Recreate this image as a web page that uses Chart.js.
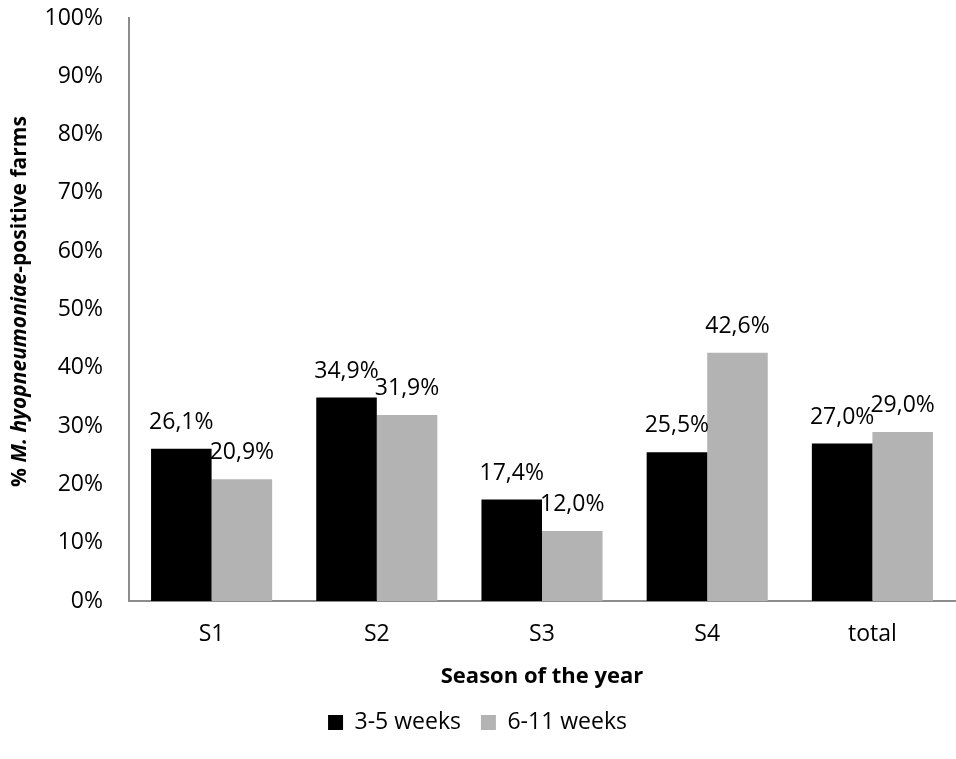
<!DOCTYPE html>
<html>
<head>
<meta charset="utf-8">
<script src="https://cdn.jsdelivr.net/npm/chart.js@4"></script>
<style>
  body { margin: 0; background: #fff; }
</style>
</head>
<body>
<canvas id="seasonChart" width="956" height="759"></canvas>
<script>
// Seasons and the two age groups (% positive farms)
const seasons = ['S1', 'S2', 'S3', 'S4', 'total'];
const weeks3to5 = [26.1, 34.9, 17.4, 25.5, 27.0];
const weeks6to11 = [20.9, 31.9, 12.0, 42.6, 29.0];
const seriesNames = ['3-5 weeks', '6-11 weeks'];
const yTicks = [0, 10, 20, 30, 40, 50, 60, 70, 80, 90, 100];

const fontFamily = '"Open Sans", "Noto Sans", sans-serif';

// value labels above each bar, written with a decimal comma
const barLabels = {
    id: 'barLabels',
    afterDatasetsDraw(chart) {
        const ctx = chart.ctx;
        ctx.save();
        ctx.font = '23px ' + fontFamily;
        ctx.fillStyle = '#000';
        ctx.textAlign = 'center';
        ctx.textBaseline = 'alphabetic';
        chart.data.datasets.forEach((ds, i) => {
            chart.getDatasetMeta(i).data.forEach((bar, j) => {
                const txt = ds.data[j].toFixed(1).replace('.', ',') + '%';
                ctx.fillText(txt, bar.x, bar.y - 20);
            });
        });
        ctx.restore();
    }
};

// y axis title with the italic species name
const yTitle = {
    id: 'yTitle',
    afterDraw(chart) {
        const ctx = chart.ctx;
        const parts = [
            { text: '% ', font: 'bold 21px ' + fontFamily },
            { text: 'M. hyopneumoniae', font: 'italic bold 21px ' + fontFamily },
            { text: '-positive farms', font: 'bold 21px ' + fontFamily }
        ];
        ctx.save();
        let total = 0;
        parts.forEach(p => { ctx.font = p.font; p.w = ctx.measureText(p.text).width; total += p.w; });
        const area = chart.chartArea;
        ctx.translate(20, (area.top + area.bottom) / 2 - 8);
        ctx.rotate(-Math.PI / 2);
        ctx.fillStyle = '#000';
        ctx.textBaseline = 'middle';
        let x = -total / 2;
        parts.forEach(p => { ctx.font = p.font; ctx.fillText(p.text, x, 0); x += p.w; });
        ctx.restore();
    }
};

const ctxSeason = document.getElementById('seasonChart').getContext('2d');
const seasonChart = new Chart(ctxSeason, {
    type: 'bar',
    data: {
        labels: seasons,
        datasets: [
            {
                label: seriesNames[0],
                data: weeks3to5,
                backgroundColor: '#000000',
                barPercentage: 1,
                categoryPercentage: 0.733
            },
            {
                label: seriesNames[1],
                data: weeks6to11,
                backgroundColor: '#b3b3b3',
                barPercentage: 1,
                categoryPercentage: 0.733
            }
        ]
    },
    options: {
        responsive: false,
        animation: false,
        layout: { padding: { top: 18, right: 1, left: 0, bottom: 15 } },
        plugins: {
            tooltip: { enabled: false },
            legend: {
                position: 'bottom',
                labels: {
                    color: '#000',
                    font: { family: fontFamily, size: 23 },
                    boxWidth: 15,
                    boxHeight: 15,
                    padding: 20
                }
            }
        },
        scales: {
            x: {
                grid: { display: false, drawTicks: false },
                border: { display: true, color: '#8c8c8c', width: 2 },
                ticks: { color: '#000', font: { family: fontFamily, size: 23 }, padding: 20 },
                title: {
                    display: true,
                    text: 'Season of the year',
                    color: '#000',
                    font: { family: fontFamily, size: 22, weight: 'bold' },
                    padding: { top: -5, bottom: 1 }
                }
            },
            y: {
                min: 0,
                max: 100,
                afterFit(scale) {
                    scale.width = 129;
                    scale.paddingTop = 0;
                    scale.paddingBottom = 0;
                },
                afterBuildTicks(scale) { scale.ticks = yTicks.map(v => ({ value: v })); },
                grid: { display: false, drawTicks: false },
                border: { display: true, color: '#8c8c8c', width: 2 },
                ticks: {
                    color: '#000',
                    font: { family: fontFamily, size: 23 },
                    padding: 26,
                    callback: v => v + '%'
                }
            }
        }
    },
    plugins: [barLabels, yTitle]
});
</script>
</body>
</html>
